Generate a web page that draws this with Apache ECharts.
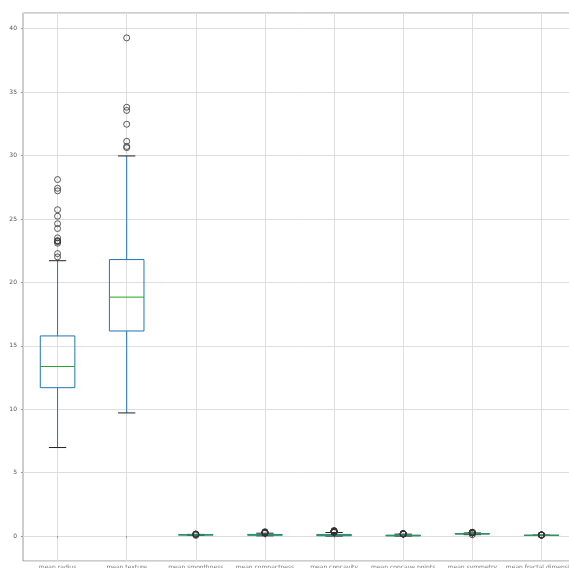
<!DOCTYPE html>
<html>
<head>
<meta charset="utf-8">
<script src="https://cdn.jsdelivr.net/npm/echarts@6/dist/echarts.min.js"></script>
<style>html,body{margin:0;padding:0;background:#fff}#c{width:569px;height:568px}</style>
</head>
<body>
<div id="c"></div>
<script>
// ---- data ----
var categories = ['mean radius', 'mean texture', 'mean smoothness', 'mean compactness',
  'mean concavity', 'mean concave points', 'mean symmetry', 'mean fractal dimension'];
var whiskerLow  = [6.981, 9.71, 0.0594, 0.01938, 0.0,    0.0,    0.1120, 0.0500];
var q1          = [11.70, 16.17, 0.0864, 0.0649, 0.0296, 0.0203, 0.1619, 0.0577];
var median      = [13.37, 18.84, 0.0959, 0.0926, 0.0615, 0.0335, 0.1792, 0.0615];
var q3          = [15.78, 21.80, 0.1053, 0.1304, 0.1307, 0.0740, 0.1957, 0.0661];
var whiskerHigh = [21.71, 29.97, 0.1335, 0.2284, 0.2810, 0.1530, 0.2459, 0.0786];
var outliers = [
  [22.01, 22.27, 23.09, 23.21, 23.27, 23.29, 23.51, 24.25, 24.63, 25.22, 25.73, 27.22, 27.42, 28.11],
  [30.62, 30.72, 31.12, 32.47, 33.56, 33.81, 39.28],
  [0.05263, 0.1371, 0.1398, 0.1425, 0.1447, 0.1634],
  [0.2293, 0.2363, 0.2364, 0.2396, 0.2413, 0.2458, 0.2665, 0.2768, 0.2776, 0.2832, 0.2839, 0.2867, 0.3114, 0.3454],
  [0.3001, 0.3003, 0.3130, 0.3176, 0.3189, 0.3201, 0.3339, 0.3368, 0.3523, 0.3635, 0.3754, 0.4108, 0.4264, 0.4268],
  [0.1562, 0.1595, 0.1604, 0.1620, 0.1689, 0.1823, 0.1845, 0.1878, 0.1913, 0.2012],
  [0.1060, 0.2495, 0.2548, 0.2556, 0.2569, 0.2595, 0.2597, 0.2655, 0.2678, 0.2743, 0.2906, 0.3040],
  [0.0795, 0.0798, 0.0805, 0.0812, 0.0824, 0.0826, 0.0845, 0.0898, 0.0930, 0.0958, 0.0974]
];
var yMin = -1.964, yMax = 41.24;

// ---- build ----
var boxData = categories.map(function (c, i) {
  return [i, whiskerLow[i], q1[i], median[i], q3[i], whiskerHigh[i]];
});
var flierData = [];
outliers.forEach(function (arr, i) {
  arr.forEach(function (v) { flierData.push([i, v]); });
});

var chart = echarts.init(document.getElementById('c'), null, {renderer: 'canvas'});
chart.setOption({
  animation: false,
  grid: {left: 23, top: 13, width: 553, height: 548, outerBoundsMode: 'none', containLabel: false,
    show: true, borderColor: '#9a9a9a', borderWidth: 1, backgroundColor: 'transparent'},
  xAxis: {
    type: 'category', data: categories, boundaryGap: true,
    axisLine: {show: false},
    axisTick: {show: true, alignWithLabel: true, length: 2, lineStyle: {color: '#999'}},
    axisLabel: {interval: 0, fontSize: 6, color: '#777', margin: 3, fontFamily: 'DejaVu Sans'},
    splitLine: {show: false}
  },
  yAxis: {
    type: 'value', min: yMin, max: yMax, splitNumber: 8,
    axisLine: {show: false},
    axisTick: {show: true, length: 2, lineStyle: {color: '#999'}},
    axisLabel: {fontSize: 6, color: '#555', margin: 6, showMinLabel: false, showMaxLabel: false, fontFamily: 'DejaVu Sans'},
    splitLine: {show: true, lineStyle: {color: '#dedede', width: 1}}
  },
  series: [
    {
      type: 'line', data: [], silent: true, z: 0,
      markLine: {
        silent: true, symbol: ['none', 'none'], label: {show: false}, z: 0,
        lineStyle: {color: '#dedede', type: 'solid', width: 1},
        emphasis: {disabled: true},
        data: categories.map(function (c) { return {xAxis: c}; })
      }
    },
    {
      type: 'custom', z: 5, silent: true, clip: false,
      data: boxData,
      encode: {x: 0, y: [1, 2, 3, 4, 5]},
      renderItem: function (params, api) {
        var i = api.value(0);
        var band = api.size([1, 0])[0];
        var bw = band * 0.5, cw = bw * 0.5;
        var pLo = api.coord([i, api.value(1)]);
        var pQ1 = api.coord([i, api.value(2)]);
        var pMed = api.coord([i, api.value(3)]);
        var pQ3 = api.coord([i, api.value(4)]);
        var pHi = api.coord([i, api.value(5)]);
        var x = pQ1[0];
        var blue = '#1f77b4';
        function ln(x1, y1, x2, y2, col) {
          return {type: 'polyline', z2: 10, shape: {points: [[x1, y1], [x2, y2]]},
            style: {stroke: col, lineWidth: 1, fill: null}};
        }
        return {
          type: 'group',
          children: [
            ln(x, pLo[1], x, pQ1[1], blue),
            ln(x, pQ3[1], x, pHi[1], blue),
            ln(x - cw / 2, pLo[1], x + cw / 2, pLo[1], '#222'),
            ln(x - cw / 2, pHi[1], x + cw / 2, pHi[1], '#222'),
            {type: 'rect', z2: 10, shape: {x: x - bw / 2, y: pQ3[1], width: bw, height: pQ1[1] - pQ3[1]},
              style: {fill: null, stroke: blue, lineWidth: 1}},
            ln(x - bw / 2, pMed[1], x + bw / 2, pMed[1], '#2ca02c')
          ]
        };
      }
    },
    {
      type: 'scatter', z: 6,
      data: flierData,
      symbol: 'circle', symbolSize: 6,
      itemStyle: {color: 'rgba(0,0,0,0)', borderColor: '#333', borderWidth: 1, opacity: 0.8}
    }
  ]
});
</script>
</body>
</html>
